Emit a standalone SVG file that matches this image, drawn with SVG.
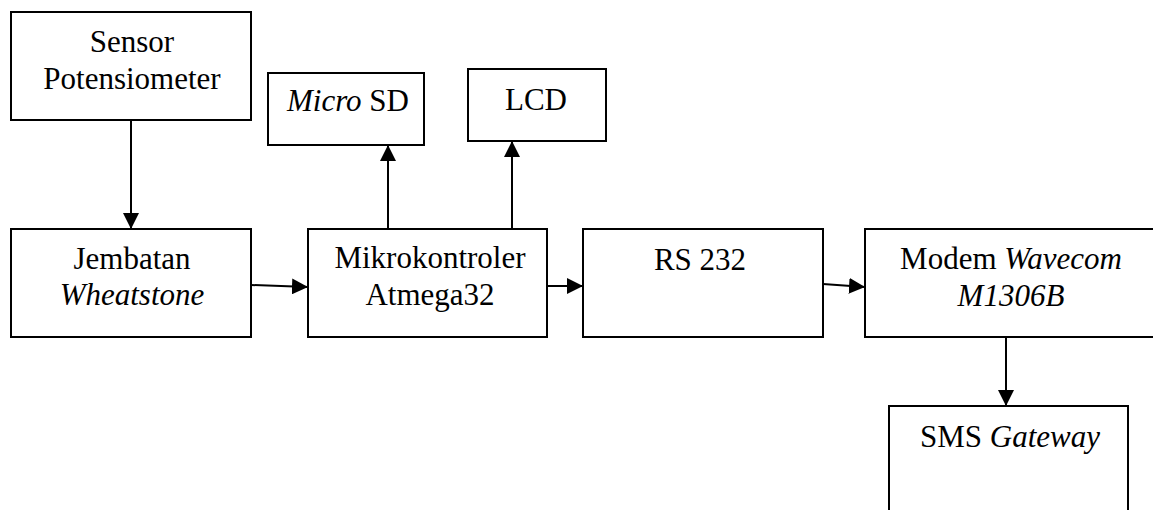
<svg xmlns="http://www.w3.org/2000/svg" width="1153" height="510" viewBox="0 0 1153 510" font-family="Liberation Serif, DejaVu Serif, serif">
<style>
.box{fill:#fff;stroke:#000;stroke-width:2}
.t{font-family:Liberation Serif, DejaVu Serif, serif;font-size:31px;fill:#000;text-anchor:middle}
.i{font-style:italic}
.c{stroke:#000;stroke-width:2;fill:none}
</style>
<defs>
<marker id="ah" markerUnits="userSpaceOnUse" markerWidth="16" markerHeight="16" viewBox="0 0 16 16" refX="16" refY="8" orient="auto">
<path d="M0,0 L16,8 L0,16 Z" fill="#000"/>
</marker>
</defs>
<rect width="1153" height="510" fill="#fff"/>
<g id="connectors">
<line class="c" x1="131" y1="120" x2="131" y2="229" marker-end="url(#ah)"/>
<line class="c" x1="251" y1="285" x2="308" y2="287" marker-end="url(#ah)"/>
<line class="c" x1="388" y1="229" x2="388" y2="145" marker-end="url(#ah)"/>
<line class="c" x1="512" y1="229" x2="512" y2="141" marker-end="url(#ah)"/>
<line class="c" x1="547" y1="286" x2="583" y2="286" marker-end="url(#ah)"/>
<line class="c" x1="823" y1="284" x2="865" y2="287" marker-end="url(#ah)"/>
<line class="c" x1="1006" y1="337" x2="1006" y2="406" marker-end="url(#ah)"/>
</g>
<g id="sensor">
<rect class="box" x="11" y="12" width="240" height="108"/>
<text class="t" x="132" y="52">Sensor</text>
<text class="t" x="132" y="89">Potensiometer</text>
</g>
<g id="microsd">
<rect class="box" x="268" y="73" width="156" height="72"/>
<text class="t" x="348" y="111"><tspan class="i">Micro</tspan> SD</text>
</g>
<g id="lcd">
<rect class="box" x="468" y="69" width="138" height="72"/>
<text class="t" x="536" y="110">LCD</text>
</g>
<g id="jembatan">
<rect class="box" x="11" y="229" width="240" height="108"/>
<text class="t" x="132" y="269">Jembatan</text>
<text class="t i" x="132" y="305">Wheatstone</text>
</g>
<g id="mikrokontroler">
<rect class="box" x="308" y="229" width="239" height="108"/>
<text class="t" x="430" y="268">Mikrokontroler</text>
<text class="t" x="430" y="305">Atmega32</text>
</g>
<g id="rs232">
<rect class="box" x="583" y="229" width="240" height="108"/>
<text class="t" x="700" y="270">RS 232</text>
</g>
<g id="modem">
<rect class="box" x="865" y="229" width="300" height="108"/>
<text class="t" x="1011" y="269">Modem <tspan class="i">Wavecom</tspan></text>
<text class="t i" x="1011" y="306">M1306B</text>
</g>
<g id="smsgateway">
<rect class="box" x="889" y="406" width="239" height="120"/>
<text class="t" x="1010" y="447">SMS <tspan class="i">Gateway</tspan></text>
</g>
</svg>
